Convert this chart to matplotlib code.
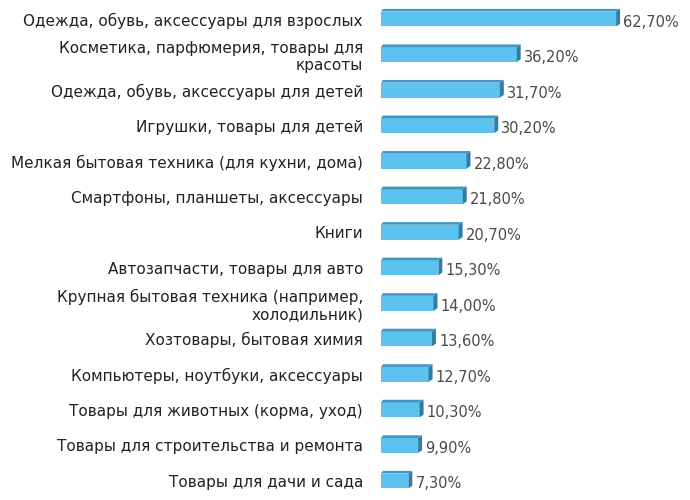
import numpy as np
import matplotlib.pyplot as plt
from matplotlib.patches import Polygon
from matplotlib.transforms import offset_copy

categories = [
    "Одежда, обувь, аксессуары для взрослых",
    "Косметика, парфюмерия, товары для\nкрасоты",
    "Одежда, обувь, аксессуары для детей",
    "Игрушки, товары для детей",
    "Мелкая бытовая техника (для кухни, дома)",
    "Смартфоны, планшеты, аксессуары",
    "Книги",
    "Автозапчасти, товары для авто",
    "Крупная бытовая техника (например,\nхолодильник)",
    "Хозтовары, бытовая химия",
    "Компьютеры, ноутбуки, аксессуары",
    "Товары для животных (корма, уход)",
    "Товары для строительства и ремонта",
    "Товары для дачи и сада",
]
values = [62.7, 36.2, 31.7, 30.2, 22.8, 21.8, 20.7, 15.3, 14.0, 13.6, 12.7, 10.3, 9.9, 7.3]
value_labels = ["62,70%", "36,20%", "31,70%", "30,20%", "22,80%", "21,80%", "20,70%",
                "15,30%", "14,00%", "13,60%", "12,70%", "10,30%", "9,90%", "7,30%"]

face = "#5CC3EF"
top = "#4496C0"
side = "#2F7DA5"

fig = plt.figure(figsize=(6.9, 5.0), dpi=100)
ax = fig.add_axes([381 / 690, 0, 309 / 690, 1])
y = np.arange(len(values))
h = 0.42
dx = 1.05
dy = 0.075

ax.barh(y, values, height=h, color=face, edgecolor="none", zorder=2)
for yi, v in zip(y, values):
    ax.add_patch(Polygon([(v, yi + h / 2), (v, yi - h / 2), (v + dx, yi - h / 2 - dy),
                          (v + dx, yi + h / 2 - dy)], closed=True, color=side, lw=0, zorder=3))
    ax.add_patch(Polygon([(0, yi - h / 2), (v, yi - h / 2), (v + dx, yi - h / 2 - dy),
                          (dx * 0.5, yi - h / 2 - dy)], closed=True, color=top, lw=0, zorder=3))

trans = offset_copy(ax.transData, fig=fig, x=7, y=-3, units="dots")
for yi, v, lab in zip(y, values, value_labels):
    ax.text(v, yi, lab, transform=trans, ha="left", va="center",
            fontsize=10.5, color="#4a4a4a", family="DejaVu Sans")

ax.set_xlim(0, 309 / 3.75)
ax.set_ylim(13.535, -0.535)
ax.set_yticks(y)
ax.set_yticklabels(categories, fontsize=11, color="#222222", ha="right")
ax.tick_params(axis="y", length=0, pad=13)
ax.set_xticks([])
for s in ax.spines.values():
    s.set_visible(False)
ax.patch.set_alpha(0)

fig.savefig("out.png", dpi=100)
